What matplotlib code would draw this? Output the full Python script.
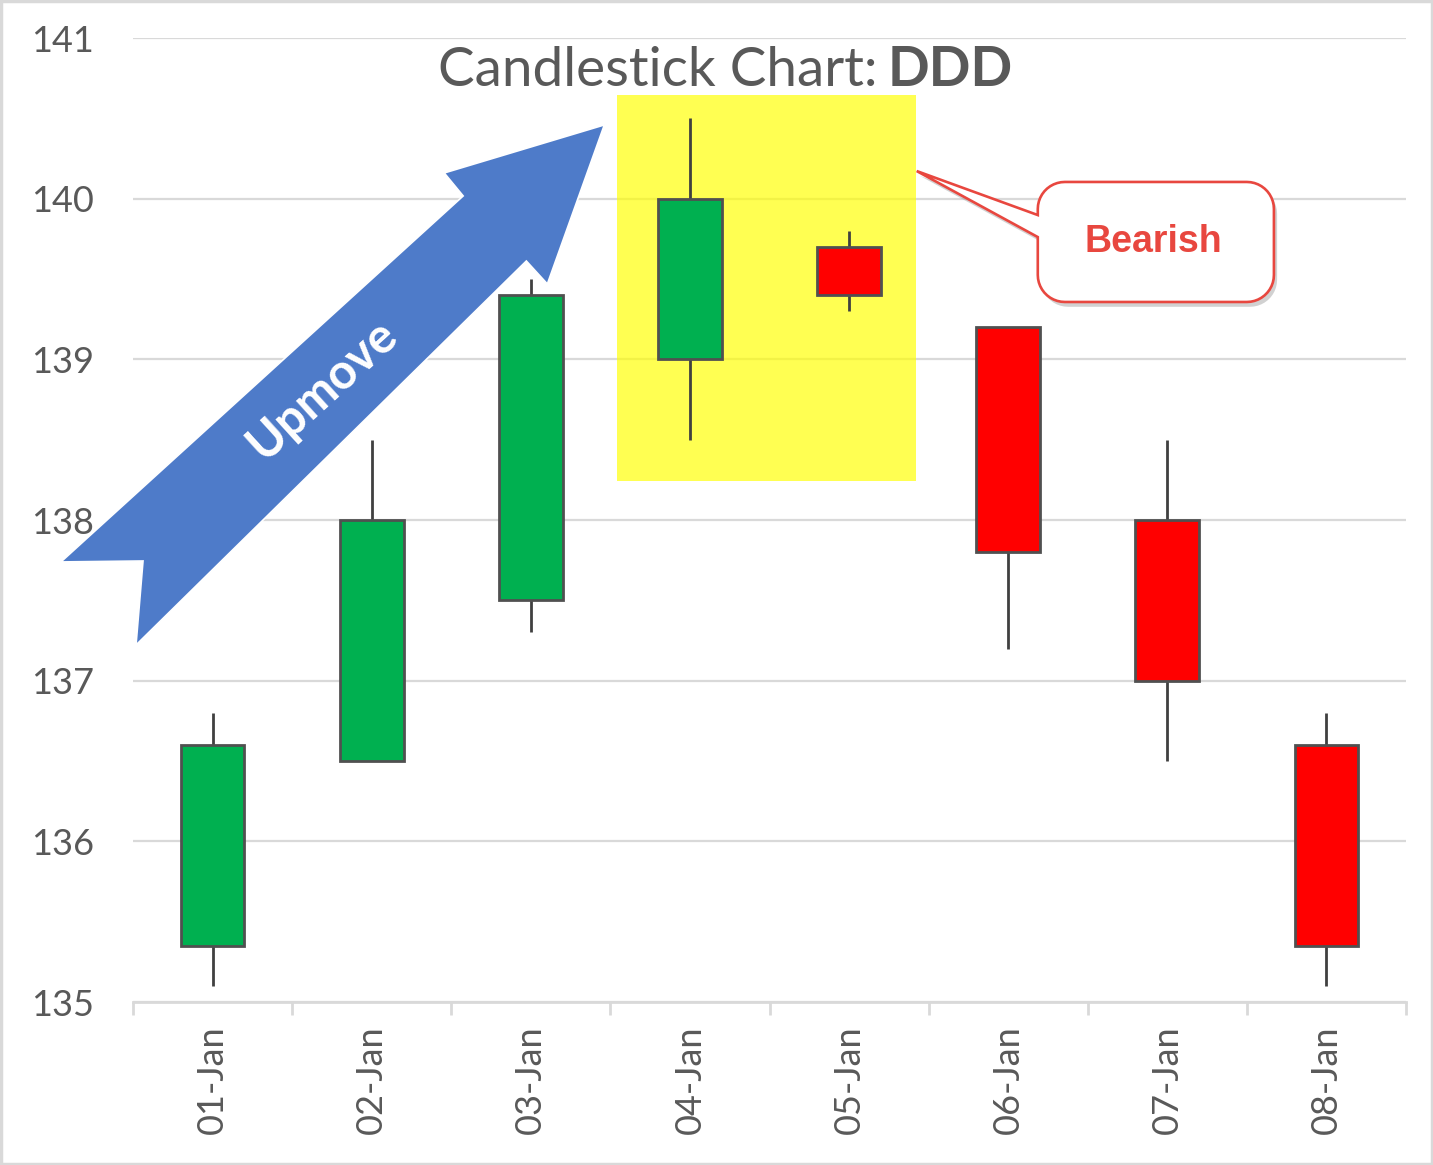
import matplotlib
matplotlib.use("Agg")
import matplotlib.pyplot as plt
from matplotlib.patches import Polygon, Rectangle
import numpy as np

# candle data
dates = ['01-Jan', '02-Jan', '03-Jan', '04-Jan', '05-Jan', '06-Jan', '07-Jan', '08-Jan']
opens = [135.35, 136.5, 137.5, 139.0, 139.7, 139.2, 138.0, 136.6]
highs = [136.8, 138.5, 139.5, 140.5, 139.8, 139.2, 138.5, 136.8]
lows = [135.1, 136.5, 137.3, 138.5, 139.3, 137.2, 136.5, 135.1]
closes = [136.6, 138.0, 139.4, 140.0, 139.4, 137.8, 137.0, 135.35]
y_ticks = [135, 136, 137, 138, 139, 140, 141]

GRID = '#D9D9D9'
TEXT = '#595959'
EDGE = '#505050'
UP = '#00B050'
DOWN = '#FF0000'
CALLOUT_RED = '#E8473F'

plt.rcParams['font.family'] = ['Lato', 'DejaVu Sans']

W, H = 1433, 1165
fig = plt.figure(figsize=(W / 100, H / 100), dpi=100)
ax = fig.add_axes([133 / W, 1 - 1002 / H, 1273 / W, 964 / H])

x = np.arange(len(dates))
o = np.array(opens)
c = np.array(closes)
colors = [UP if cc >= oo else DOWN for oo, cc in zip(o, c)]

# wicks then bodies
ax.vlines(x, lows, highs, color='#404040', lw=2, zorder=3)
ax.bar(x, c - o, bottom=o, width=0.4, color=colors, edgecolor=EDGE, lw=2, zorder=4)

ax.set_xlim(-0.5, len(dates) - 0.5)
ax.set_ylim(135, 141)

# gridlines and axes styling
ax.set_axisbelow(True)
ax.yaxis.grid(True, color=GRID, lw=1.6)
for s in ['left', 'top', 'right']:
    ax.spines[s].set_visible(False)
ax.spines['bottom'].set_color(GRID)
ax.spines['bottom'].set_linewidth(2)

ax.set_yticks(y_ticks)
ax.set_yticklabels([str(v) for v in y_ticks])
ax.tick_params(axis='y', length=0, pad=28, labelsize=26, labelcolor=TEXT)

ax.set_xticks(np.arange(-0.5, len(dates), 1))
ax.set_xticklabels([])
ax.tick_params(axis='x', which='major', length=9.5, width=2, color=GRID)
ax.set_xticks(x, dates, minor=True)
ax.tick_params(axis='x', which='minor', length=0, pad=17, labelsize=26,
               labelcolor=TEXT, labelrotation=90)

# highlighted zone
ax.add_patch(Rectangle((2.544, 138.243), 1.874, 2.402, facecolor='#FFFF00',
                       alpha=0.68, lw=0, zorder=2))

# "Upmove" block arrow
arrow_pts = [(-0.953, 137.739), (1.575, 140.017), (1.456, 140.160), (2.462, 140.459),
             (2.104, 139.469), (1.972, 139.612), (-0.481, 137.222), (-0.437, 137.745)]
ax.add_patch(Polygon(arrow_pts, closed=True, facecolor='#4E7BC9', edgecolor='white',
                     lw=1.2, zorder=6, clip_on=False))
ax.text(0.69, 138.81, 'Upmove', rotation=42.3, rotation_mode='anchor', ha='center',
        va='center', color='white', fontsize=35, fontweight='bold', zorder=7)


# "Bearish" callout: rounded box with a pointer on its left side
def callout(x0, y0, x1, y1, rx, ry, tip, base_hi, base_lo):
    pts = []
    pts += [(x0, base_hi), tip, (x0, base_lo)]
    corners = [((x0 + rx, y0 + ry), 180, 270), ((x1 - rx, y0 + ry), 270, 360),
               ((x1 - rx, y1 - ry), 0, 90), ((x0 + rx, y1 - ry), 90, 180)]
    for (cx, cy), a0, a1 in corners:
        t = np.radians(np.linspace(a0, a1, 12))
        pts += list(zip(cx + rx * np.cos(t), cy + ry * np.sin(t)))
    return pts


box = callout(5.186, 139.357, 6.670, 140.104, 0.17, 0.168, (4.425, 140.172), 139.898, 139.761)
shadow = [(px + 0.02, py - 0.03) for px, py in box]
ax.add_patch(Polygon(shadow, closed=True, facecolor='#9A9A9A', edgecolor='none',
                     alpha=0.45, zorder=7, clip_on=False))
ax.add_patch(Polygon(box, closed=True, facecolor='white', edgecolor=CALLOUT_RED,
                     lw=1.9, zorder=8, clip_on=False))
ax.text(5.91, 139.73, 'Bearish', ha='center', va='center', color=CALLOUT_RED,
        fontsize=27, fontweight='bold', family=['Liberation Sans', 'DejaVu Sans'], zorder=9)

# title: regular part + bold ticker
fig.text(878 / W, 1 - 86 / H, 'Candlestick Chart:', ha='right', va='baseline',
         fontsize=39.5, color=TEXT)
fig.text(888 / W, 1 - 86 / H, 'DDD', ha='left', va='baseline', fontsize=39.5,
         fontweight='bold', color=TEXT)

# outer frame
fig.add_artist(Rectangle((0.001, 0.001), 0.998, 0.998, transform=fig.transFigure,
                         fill=False, edgecolor=GRID, lw=2.5))

fig.savefig('out.png', dpi=100)
